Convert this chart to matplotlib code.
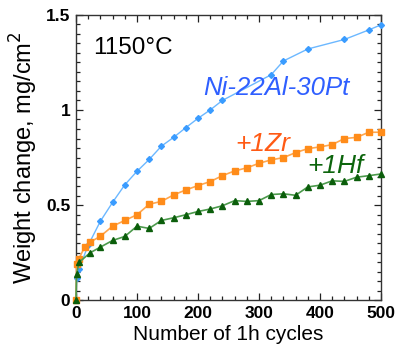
import matplotlib
matplotlib.use("Agg")
import matplotlib.pyplot as plt
from matplotlib.ticker import MultipleLocator

plt.rcParams['font.family'] = ['Liberation Sans', 'DejaVu Sans']

# Ni-22Al-30Pt
pt_x = [0, 1, 5, 20, 40, 60, 80, 100, 120, 140, 160, 180, 200, 220, 240, 320, 340, 380, 440, 480, 500]
pt_y = [0, 0.12, 0.166, 0.29, 0.416, 0.515, 0.607, 0.678, 0.74, 0.81, 0.856, 0.907, 0.956, 1.0, 1.05,
        1.185, 1.257, 1.32, 1.37, 1.42, 1.447]

# +1Zr
zr_x = [0, 1, 5, 14, 23, 40, 60, 80, 100, 120, 140, 160, 180, 200, 220, 240, 260, 280, 300,
        320, 340, 360, 380, 400, 420, 440, 460, 480, 500]
zr_y = [0, 0.19, 0.22, 0.28, 0.306, 0.337, 0.39, 0.42, 0.45, 0.505, 0.52, 0.554, 0.58, 0.603, 0.624,
        0.655, 0.68, 0.696, 0.72, 0.738, 0.75, 0.776, 0.797, 0.806, 0.818, 0.85, 0.856, 0.883, 0.883]

# +1Hf
hf_x = [0, 1, 5, 23, 40, 60, 80, 100, 120, 140, 160, 180, 200, 220, 240, 260, 280, 300,
        320, 340, 360, 380, 400, 420, 440, 460, 480, 500]
hf_y = [0, 0.14, 0.2, 0.25, 0.28, 0.315, 0.336, 0.39, 0.378, 0.42, 0.434, 0.45, 0.467, 0.48, 0.497,
        0.524, 0.52, 0.524, 0.556, 0.56, 0.552, 0.596, 0.605, 0.628, 0.625, 0.647, 0.655, 0.664]

x_ticks = [0, 100, 200, 300, 400, 500]
y_ticks = [0, 0.5, 1, 1.5]
y_ticklabels = ["0", "0.5", "1", "1.5"]

fig = plt.figure(figsize=(3.97, 3.56), dpi=100)
ax = fig.add_axes([0.1914, 0.156, 0.7683, 0.8027])

ax.plot(pt_x, pt_y, '-', color='#6cb8ff', lw=1.0, marker='D', ms=3,
        mfc='#3a9cff', mec='#3a9cff', clip_on=False, zorder=3)
ax.plot(zr_x, zr_y, '-', color='#ffa64d', lw=1.2, marker='s', ms=4.2,
        mfc='#ff8c1a', mec='#ff8c1a', clip_on=False, zorder=3)
ax.plot(hf_x, hf_y, '-', color='#4c9a4c', lw=1.2, marker='^', ms=4.5,
        mfc='#0b5e0b', mec='#0b5e0b', clip_on=False, zorder=3)

ax.set_xlim(0, 500)
ax.set_ylim(0, 1.5)
ax.set_xticks(x_ticks)
ax.set_yticks(y_ticks)
ax.set_yticklabels(y_ticklabels)
ax.xaxis.set_minor_locator(MultipleLocator(20))
ax.yaxis.set_minor_locator(MultipleLocator(0.05))
ax.tick_params(which='both', direction='in', top=True, right=True, width=0.9, color='#222222')
ax.tick_params(which='major', length=5, labelsize=12.5, pad=4)
ax.tick_params(which='minor', length=3)
for lab in ax.get_xticklabels() + ax.get_yticklabels():
    lab.set_fontweight('bold')
for s in ax.spines.values():
    s.set_linewidth(1.0)
    s.set_color('#333333')

ax.set_xlabel("Number of 1h cycles", fontsize=15, labelpad=3)
ax.set_ylabel("Weight change, mg/cm$^2$", fontsize=17, labelpad=4)

ax.text(28, 1.293, "1150°C", fontsize=17.5, color='black', va='baseline')
ax.text(208, 1.078, "Ni-22Al-30Pt", fontsize=18.5, style='italic', color='#2f5fff', va='baseline')
ax.text(261, 0.786, "+1Zr", fontsize=19, style='italic', color='#ff5a14', va='baseline')
ax.text(379, 0.669, "+1Hf", fontsize=19, style='italic', color='#0d650d', va='baseline')

fig.savefig("out.png", dpi=100)
